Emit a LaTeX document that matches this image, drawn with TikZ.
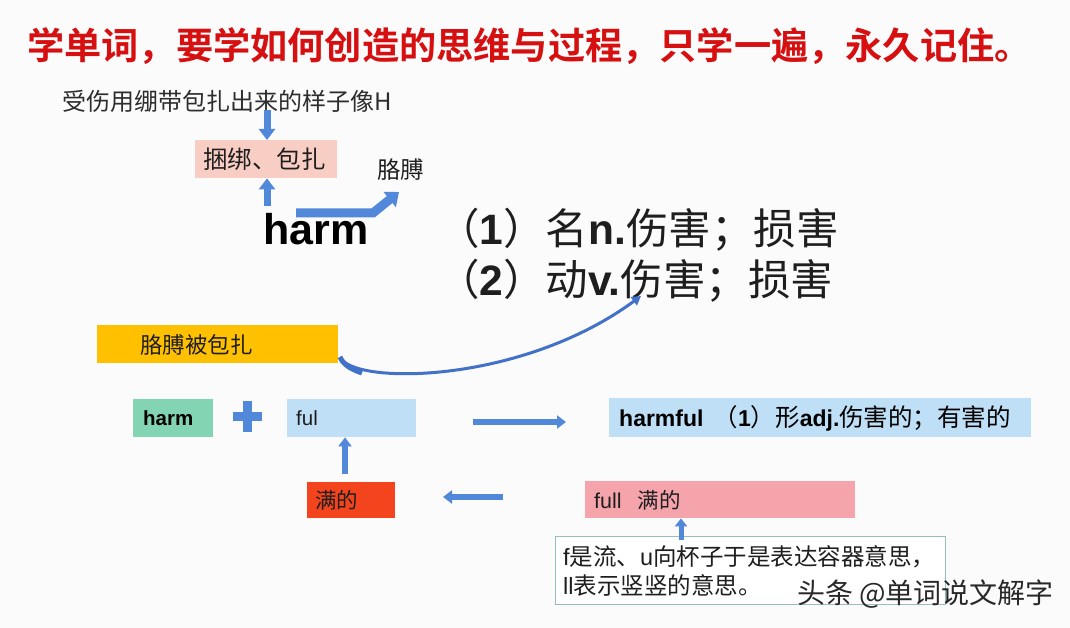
\documentclass[tikz,border=0pt]{standalone}
\usepackage{fontspec}
\setmainfont{Liberation Sans}
\newfontfamily\cjk{Noto Sans CJK SC}
\newfontfamily\cjkb{Noto Sans CJK SC Bold}
\usetikzlibrary{arrows.meta}
\definecolor{bg}{RGB}{251,251,252}
\definecolor{ablue}{RGB}{82,136,218}
\definecolor{cblue}{RGB}{66,114,200}
\definecolor{titred}{RGB}{214,16,16}
\definecolor{pinkA}{RGB}{248,205,196}
\definecolor{orangeA}{RGB}{255,192,0}
\definecolor{greenA}{RGB}{130,212,178}
\definecolor{lblue}{RGB}{190,223,245}
\definecolor{redA}{RGB}{243,68,30}
\definecolor{pinkB}{RGB}{245,164,172}
\definecolor{boxline}{RGB}{150,190,190}
\definecolor{txt}{RGB}{30,30,30}
\definecolor{wm}{RGB}{40,40,40}
\tikzset{
  blk/.style={line width=7pt, draw=ablue, -{Triangle[width=16pt,length=11pt]}},
  blkS/.style={line width=6pt, draw=ablue, -{Triangle[width=13pt,length=9pt]}},
  lbl/.style={inner sep=0pt, text=txt},
  boxA/.style={inner sep=0pt, minimum height=38pt, anchor=north west},
}
\newcommand{\zh}[1]{{\cjk #1}}
\newcommand{\lb}[1]{{\normalfont\bfseries #1}}
\begin{document}
\begin{tikzpicture}[x=1pt,y=-1pt]
\useasboundingbox[fill=bg] (0,0) rectangle (1070,628);
% title
\node[inner sep=0pt, anchor=west, text=titred, font=\cjkb\fontsize{37.2}{40}\selectfont] (title) at (27,46) {学单词，要学如何创造的思维与过程，只学一遍，永久记住。};
% top sub text
\node[lbl, anchor=west, font=\cjk\fontsize{24}{26}\selectfont, text={rgb,255:red,45;green,45;blue,45}] (sub) at (62,101) {受伤用绷带包扎出来的样子像H};
% pink box
\node[boxA, fill=pinkA, minimum width=142pt] (kb) at (195,140) {};
\node[lbl, anchor=west, font=\cjk\fontsize{24.5}{26}\selectfont] (kbt) at (203,159) {捆绑、包扎};
% gebo
\node[lbl, anchor=west, font=\cjk\fontsize{23.5}{26}\selectfont] (gb) at (377,170) {胳膊};
% harm big
\node[lbl, anchor=base west, font=\bfseries\fontsize{43}{46}\selectfont, text=black] (harm) at (263,245) {harm};
% meanings
\node[lbl, anchor=base west, font=\cjk\fontsize{42.5}{44}\selectfont] (m1) at (437,244) {（\lb{1}）名\lb{n.}伤害；损害};
\node[lbl, anchor=base west, font=\cjk\fontsize{42.5}{44}\selectfont] (m2) at (437,295) {（\lb{2}）动\lb{v.}伤害；损害};
% arrows top
\coordinate (d0) at (267,110);
\draw[blk] (d0) -- (kb.north -| d0);
\coordinate (u0) at (267,206);
\draw[blk] (u0) -- (kb.south -| u0);
\coordinate (h0) at (296,213);
\coordinate (h1) at (373,213);
\coordinate (h2) at (399,192);
\draw[line width=9pt, draw=ablue, line join=miter, -{Triangle[width=19pt,length=12pt]}] (h0) -- (h1) -- (h2);
% orange box
\node[boxA, fill=orangeA, minimum width=241pt] (ob) at (97,325) {};
\node[lbl, anchor=west, font=\cjk\fontsize{22.5}{26}\selectfont] (obt) at (140,345) {胳膊被包扎};
% curve
\coordinate (c0) at (340,357);
\coordinate (c1) at (641,296);
\draw[cblue, line width=3pt, -{Triangle[width=10pt,length=9pt]}] (c0) .. controls (352,385) and (520,385) .. (c1);
\draw[cblue, line width=5pt] (c0) .. controls (343,364) and (350,369) .. (362,373);
% row 2
\node[boxA, fill=greenA, minimum width=80pt] (hb) at (133,399) {};
\node[lbl, anchor=west, font=\bfseries\fontsize{20.5}{24}\selectfont, text=black] (hbt) at (143,418) {harm};
\node[inner sep=0pt] (plus) at (247,416) {};
\fill[ablue] (233,411.5) rectangle (262,420.5);
\fill[ablue] (242.5,401) rectangle (251.5,432);
\node[boxA, fill=lblue, minimum width=129pt] (fb) at (287,399) {};
\node[lbl, anchor=west, font=\fontsize{20.5}{24}\selectfont] (fbt) at (296,418) {ful};
\coordinate (r0) at (473,422);
\coordinate (r1) at (566,422);
\draw[blkS] (r0) -- (r1);
\node[boxA, fill=lblue, minimum width=422pt, minimum height=39pt] (hf) at (609,398) {};
\node[lbl, anchor=west, font=\fontsize{23}{26}\selectfont, text=black] (hft) at (619,418) {\textbf{harmful}\hspace{10pt}{\cjk\fontsize{24.5}{26}\selectfont （}\textbf{1}{\cjk\fontsize{24.5}{26}\selectfont ）形}\textbf{adj.}{\cjk\fontsize{24.5}{26}\selectfont 伤害的；有害的}};
% row 3
\coordinate (uf) at (345,474);
\draw[blkS] (uf) -- (fb.south -| uf);
\node[boxA, fill=redA, minimum width=88pt, minimum height=36pt] (mb) at (307,482) {};
\node[lbl, anchor=west, font=\cjk\fontsize{21.5}{24}\selectfont] (mbt) at (315,500) {满的};
\node[boxA, fill=pinkB, minimum width=270pt, minimum height=37pt] (fl) at (585,481) {};
\node[lbl, anchor=west, font=\fontsize{21.5}{24}\selectfont] (flt) at (594,500) {full\hspace{16pt}\zh{满的}};
\coordinate (l0) at (503,497);
\coordinate (l1) at (443,497);
\draw[blkS] (l0) -- (l1);
% note box
\node[boxA, draw=boxline, line width=0.8pt, fill=white, minimum width=390pt, minimum height=68pt] (nb) at (555,536) {};
\coordinate (un) at (681,540);
\draw[line width=5pt, draw=ablue, -{Triangle[width=12pt,length=8pt]}] (un) -- (fl.south -| un);
\node[lbl, anchor=west, align=left, font=\fontsize{23.5}{29}\selectfont] (nbt) at (563,571) {f\zh{是流、}u\zh{向杯子于是表达容器意思，}\\ll\zh{表示竖竖的意思。}};
% watermark
\node[inner sep=1pt, anchor=west, text=wm, font=\cjk\fontsize{28}{30}\selectfont] (wmk) at (796,594) {头条 @单词说文解字};
\end{tikzpicture}
\end{document}
